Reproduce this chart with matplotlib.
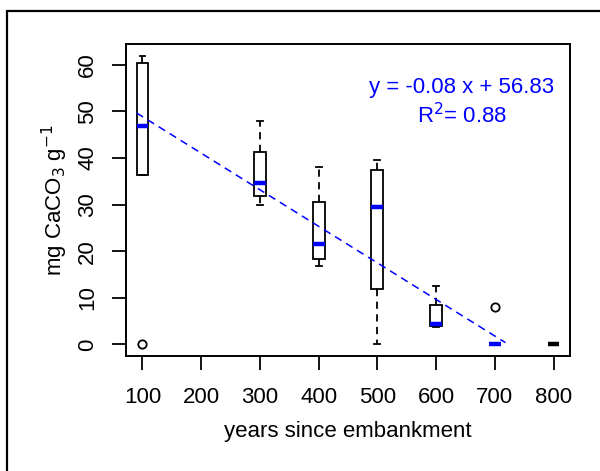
import matplotlib
matplotlib.use("Agg")
import matplotlib.pyplot as plt
from matplotlib.patches import Rectangle

plt.rcParams['font.family'] = ['Liberation Sans', 'DejaVu Sans']

# box statistics
years = [100, 300, 400, 500, 600, 700, 800]
whis_lo = [36.3, 29.9, 16.9, 0.0, 3.7, 0.0, 0.0]
q1 = [36.3, 31.9, 18.4, 11.8, 3.9, 0.0, 0.0]
med = [46.9, 34.7, 21.6, 29.4, 4.3, 0.0, 0.0]
q3 = [60.3, 41.3, 30.6, 37.5, 8.5, 0.0, 0.0]
whis_hi = [62.0, 47.9, 38.0, 39.5, 12.5, 0.0, 0.0]
fliers = [[0.0], [], [], [], [], [8.1], []]
med_colors = ['blue', 'blue', 'blue', 'blue', 'blue', 'blue', 'black']
tick_years = [100, 200, 300, 400, 500, 600, 700, 800]

# regression line
slope = -0.0785
intercept = 56.75
fit_x = [90, 718]

stats = []
for i in range(len(years)):
    stats.append(dict(whislo=whis_lo[i], q1=q1[i], med=med[i], q3=q3[i],
                      whishi=whis_hi[i], fliers=fliers[i]))

fig = plt.figure(figsize=(6, 4.71), dpi=100)
ax = fig.add_axes([0.21, 0.2442, 0.74, 0.6624])

bp = ax.bxp(stats, positions=years, widths=20, patch_artist=True,
            showfliers=True,
            boxprops=dict(facecolor='white', edgecolor='black', linewidth=1.3),
            whiskerprops=dict(color='black', linewidth=1.3, linestyle=(0, (4, 3))),
            capprops=dict(color='black', linewidth=1.3),
            capwidths=10,
            flierprops=dict(marker='o', markersize=6, markerfacecolor='none',
                            markeredgecolor='black', markeredgewidth=1.3),
            medianprops=dict(linewidth=3.2, solid_capstyle='butt'))
for line, c in zip(bp['medians'], med_colors):
    line.set_color(c)

fy = [intercept + slope * x for x in fit_x]
ax.plot(fit_x, fy, color='blue', linewidth=1.1, linestyle=(0, (5, 3.5)))

ax.text(644, 55.2, 'y = -0.08 x + 56.83', color='blue', fontsize=16,
        ha='center', va='center')
ax.text(644, 49.2, 'R$^2$= 0.88', color='blue', fontsize=16,
        ha='center', va='center')

ax.set_xlim(72, 828)
ax.set_ylim(-2.48, 64.48)
ax.set_xticks(tick_years)
ax.set_xticklabels([str(v) for v in tick_years])
ax.set_yticks([0, 10, 20, 30, 40, 50, 60])
ax.tick_params(labelsize=16, length=10, width=1.3)
ax.tick_params(axis='x', pad=12)
ax.tick_params(axis='y', pad=10)
for lab in ax.get_yticklabels():
    lab.set_rotation(90)
    lab.set_va('center')
for s in ax.spines.values():
    s.set_linewidth(1.4)

ax.set_xlabel('years since embankment', fontsize=16, labelpad=10)
ax.set_ylabel('mg CaCO$_3$ g$^{-1}$', fontsize=16, labelpad=5)

# outer frame around the figure
fig.patches.append(Rectangle((7 / 600, -0.1), 1.2, (471 - 11) / 471 + 0.1,
                             transform=fig.transFigure, fill=False,
                             edgecolor='black', linewidth=1.6))

fig.savefig('out.png', dpi=100)
